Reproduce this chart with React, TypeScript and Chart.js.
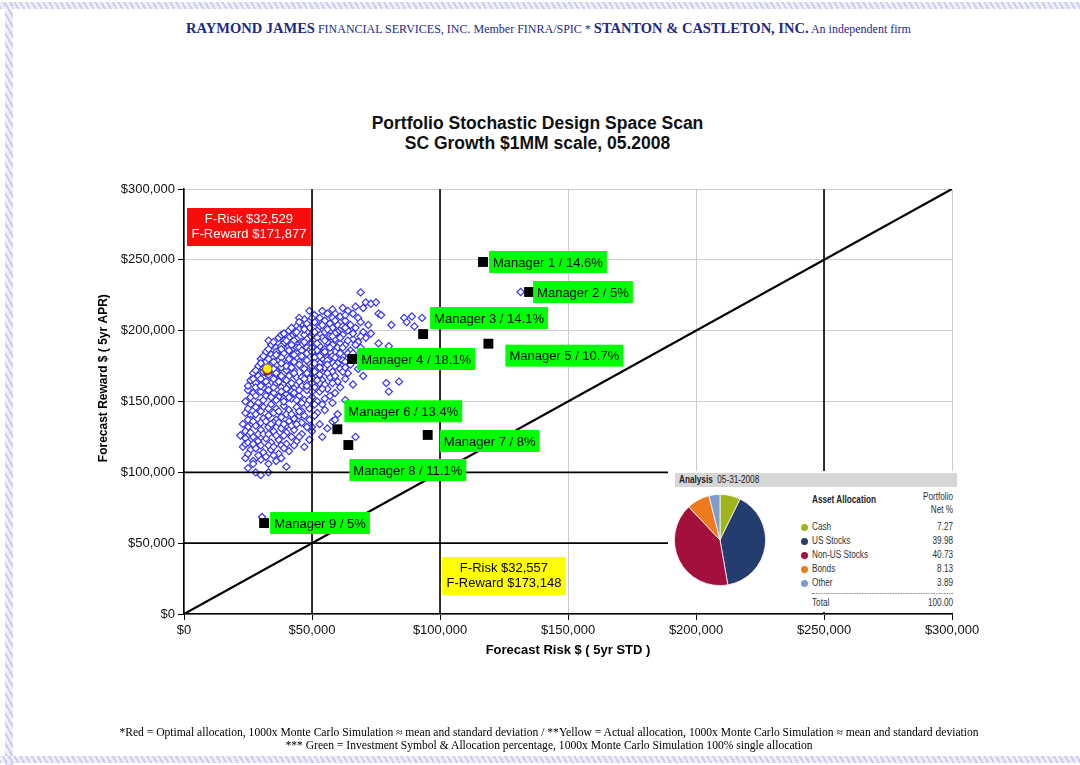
import React, { useEffect, useRef } from "react";
import { Chart, registerables } from "chart.js";

Chart.register(...registerables);

const SANS = "'Liberation Sans', Arial, Helvetica, sans-serif";
const SERIF = "'Liberation Serif', 'Times New Roman', Times, serif";

// ---------- data ----------
const axisMin = 0;
const axisMax = 300000;
const axisStep = 50000;

const chartTitle = ["Portfolio Stochastic Design Space Scan", "SC Growth $1MM scale, 05.2008"];
const riskTitle = "Forecast Risk $ ( 5yr STD )";
const rewardTitle = "Forecast Reward $ ( 5yr APR)";

// Monte Carlo cloud, values in $ thousands: [risk, reward]
const cloudPointsK: [number, number][] = [
  [69,227],[71,220],[73,219],[75,220],[67,217],
  [62,216],[64,214],[70,216],[66,212],[56,212],
  [49,214],[59,212],[61,210],[68,209],[76,212],[53,209],
  [47,208],[51,206],[55,207],[57,205],[63,207],[65,204],[72,204],[77,211],[86,209],[87,206],[89,210],[90,203],[93,209],
  [44,203],[46,205],[49,202],[53,203],[58,202],[60,204],[67,202],[81,204],[70,199],
  [41,200],[43,198],[45,201],[48,199],[50,197],[52,200],[55,199],[57,196],[60,199],[62,197],[64,200],[73,198],[80,189],
  [37,195],[39,193],[42,196],[44,194],[46,192],[49,195],[51,193],[54,195],[56,192],[59,194],[61,191],[66,194],[68,192],[71,195],[76,191],
  [34,190],[36,188],[39,191],[41,189],[43,187],[46,190],[48,188],[50,191],[53,189],[55,187],[58,190],[60,188],[63,190],[65,186],[69,188],[72,185],
  [32,185],[34,183],[37,186],[39,184],[42,182],[44,185],[47,183],[49,186],[51,182],[54,184],[56,181],[59,185],[62,182],[64,184],[67,181],[70,183],
  [30,180],[32,178],[35,181],[37,179],[40,177],[42,180],[45,178],[47,181],[49,177],[52,179],[54,176],[57,180],[60,177],[62,179],[65,176],[68,173],
  [29,175],[31,173],[34,176],[36,172],[38,174],[41,175],[43,172],[46,174],[48,172],[50,175],[53,172],[55,174],[58,171],[61,173],[64,170],
  [27,170],[29,168],[32,170],[34,167],[37,169],[39,166],[42,170],[44,167],[47,169],[49,166],[52,168],[54,165],[57,167],[60,164],[63,166],[70,168],[66,162],
  [26,165],[28,163],[31,164],[33,161],[36,163],[38,160],[41,162],[43,159],[46,161],[48,158],[51,160],[53,157],[56,159],[59,156],[61,160],[79,163],[84,164],[80,157],
  [25,158],[27,156],[30,157],[32,154],[35,156],[37,153],[40,155],[42,152],[45,154],[47,151],[50,153],[52,150],[55,152],[58,149],[63,151],
  [24,150],[26,148],[29,149],[31,146],[34,148],[36,145],[39,147],[41,144],[44,146],[46,143],[49,145],[52,142],[55,144],[60,141],
  [24,142],[26,140],[28,141],[31,138],[33,140],[36,137],[38,139],[41,136],[43,138],[46,135],[49,137],[53,134],[58,136],
  [23,134],[25,132],[28,133],[30,130],[33,132],[35,129],[38,131],[40,128],[43,130],[46,127],[50,129],[56,131],
  [22,126],[24,124],[27,125],[29,122],[32,124],[34,121],[37,123],[40,120],[44,122],[49,123],[54,125],[59,137],[67,125],
  [23,118],[26,116],[28,117],[31,114],[34,116],[37,113],[41,115],[47,118],
  [24,110],[27,108],[30,109],[33,106],[36,108],[40,104],
  [25,103],[28,100],[30,98],[33,100],[27,106],
  [33,193],[38,197],[47,197],[35,178],[44,188],[52,186],[40,172],[50,170],[31,160],[42,157],[53,163],[29,145],[39,152],[48,148],
  [35,135],[45,140],[30,125],[40,133],[57,185],[58,209],[45,209],[62,171],[38,119],[50,132],[26,137],[24,120],
  [51,211],[54,214],[58,215],[63,211],
  [45,206],[48,205],[50,209],[54,204],[59,207],[62,203],[69,206],
  [42,202],[44,199],[47,201],[51,199],[56,201],[59,198],[63,202],[66,198],
  [39,198],[41,195],[43,193],[48,194],[52,195],[55,193],[58,196],[61,195],[64,193],[69,196],
  [35,192],[38,189],[40,193],[42,190],[45,188],[47,192],[50,188],[52,191],[57,188],[62,188],[67,190],
  [33,187],[36,185],[38,187],[41,186],[43,183],[46,186],[48,184],[50,185],[53,182],[55,185],[58,182],[61,184],[66,184],
  [31,182],[33,180],[36,183],[38,181],[41,180],[43,178],[46,182],[48,179],[51,181],[53,177],[56,179],[59,181],[63,178],
  [30,177],[33,175],[35,173],[38,177],[40,175],[42,174],[45,176],[47,173],[51,177],[53,174],[56,176],[59,175],[63,174],
  [28,172],[31,171],[33,169],[36,170],[38,168],[41,168],[43,170],[46,167],[48,170],[51,171],[53,169],[56,170],[59,168],
  [27,166],[30,166],[32,164],[35,166],[37,164],[40,165],[42,163],[45,164],[47,166],[50,163],[52,165],[55,162],[58,163],
  [25,161],[28,160],[30,161],[33,158],[35,160],[38,157],[40,159],[43,156],[45,158],[48,161],[50,157],[54,159],
  [26,153],[28,154],[31,151],[34,153],[36,151],[39,150],[41,153],[44,151],[46,149],[49,151],[51,148],[54,148],[57,154],
  [25,145],[28,146],[30,143],[33,145],[35,142],[37,143],[40,141],[42,141],[45,143],[47,140],[51,140],
  [25,137],[27,136],[30,135],[32,136],[34,134],[37,135],[39,134],[42,133],[44,134],[48,132],
  [24,129],[26,128],[29,127],[31,127],[33,127],[36,126],[39,126],[42,125],[45,125],
  [25,121],[27,120],[30,119],[33,119],[35,118],[39,117],[43,119],
  [25,113],[29,112],[32,111],[35,112],[38,110],
  [131.5,227.3],[30.5,68.5],
];

const managerNames = ["Manager 1","Manager 2","Manager 3","Manager 4","Manager 5","Manager 6","Manager 7","Manager 8","Manager 9"];
const managerAlloc = ["14.6%","5%","14.1%","18.1%","10.7%","13.4%","8%","11.1%","5%"];
const managerRisk = [116800, 134800, 93400, 65700, 118900, 59900, 95200, 64200, 31300];
const managerReward = [248500, 227300, 197600, 180000, 190800, 130400, 126400, 119300, 64200];

const optimalRisk = 32529;
const optimalReward = 171877;
const actualRisk = 32557;
const actualReward = 173148;

const refRiskLines = [50000, 100000, 250000];
const refRewardLines = [50000, 100000];
const parityLine = [0, 300000];

const analysisDate = "05-31-2008";
const allocationLabels = ["Cash", "US Stocks", "Non-US Stocks", "Bonds", "Other"];
const allocationValues = [7.27, 39.98, 40.73, 8.13, 3.89];
const allocationTotal = "100.00";

const footerLines = [
  "*Red = Optimal allocation, 1000x Monte Carlo Simulation \u2248 mean and standard deviation / **Yellow = Actual allocation, 1000x Monte Carlo Simulation \u2248 mean and standard deviation",
  "*** Green = Investment Symbol & Allocation percentage, 1000x Monte Carlo Simulation 100% single allocation",
];

// ---------- styles ----------
const allocationColors = ["#a0b41e", "#243c6e", "#a3103c", "#ee7a1e", "#7c9ccc"];
// label box offsets (px) from each manager marker: [dx to box left, dy of box centre]
const labelOffsets: [number, number][] = [[6,0],[4,0],[7,-16],[5,0],[17,12],[7,-18],[12,6],[1,25],[6,0]];

const money = (v: number) => "$" + Math.round(v).toLocaleString("en-US");

const annotationPlugin = {
  id: "designAnnotations",
  afterDatasetsDraw(chart: any) {
    const { ctx, chartArea } = chart;
    const xs = chart.scales.x;
    const ys = chart.scales.y;
    ctx.save();
    ctx.font = `13px ${SANS}`;
    ctx.textBaseline = "middle";
    ctx.textAlign = "left";
    managerNames.forEach((name, i) => {
      const px = xs.getPixelForValue(managerRisk[i]);
      const py = ys.getPixelForValue(managerReward[i]);
      const [dx, dy] = labelOffsets[i];
      const text = `${name} / ${managerAlloc[i]}`;
      const w = ctx.measureText(text).width + 8;
      const h = 22;
      const left = px + dx;
      const cy = py + dy;
      ctx.fillStyle = "#00ff00";
      ctx.fillRect(left, cy - h / 2, w, h);
      ctx.fillStyle = "#000";
      ctx.fillText(text, left + 4, cy + 1);
    });

    const box = (left: number, top: number, lines: string[], bg: string, fg: string) => {
      const w = Math.max(...lines.map((l) => ctx.measureText(l).width)) + 9;
      const h = 38;
      ctx.fillStyle = bg;
      ctx.fillRect(left, top, w, h);
      ctx.fillStyle = fg;
      ctx.textAlign = "center";
      ctx.fillText(lines[0], left + w / 2, top + 11);
      ctx.fillText(lines[1], left + w / 2, top + 26.5);
      ctx.textAlign = "left";
    };
    box(chartArea.left + 3, chartArea.top + 19,
      [`F-Risk ${money(optimalRisk)}`, `F-Reward ${money(optimalReward)}`], "#f80c0c", "#fff");
    box(chartArea.left + 258, chartArea.top + 368,
      [`F-Risk ${money(actualRisk)}`, `F-Reward ${money(actualReward)}`], "#ffff00", "#000");
    ctx.restore();
  },
};

const hatch = "repeating-linear-gradient(60deg, #cdcdee 0px, #cdcdee 2px, #efeffa 2px, #efeffa 5px)";

export default function App() {
  const canvasRef = useRef<HTMLCanvasElement | null>(null);
  const pieRef = useRef<HTMLCanvasElement | null>(null);

  useEffect(() => {
    if (!canvasRef.current || !pieRef.current) return;
    const lineStyle = { showLine: true, pointRadius: 0, borderColor: "#000", fill: false };
    const datasets: any[] = [
      ...refRiskLines.map((v) => ({
        ...lineStyle, borderWidth: 1.6, order: 4,
        data: [{ x: v, y: axisMin }, { x: v, y: axisMax }],
      })),
      ...refRewardLines.map((v) => ({
        ...lineStyle, borderWidth: 1.6, order: 4,
        data: [{ x: axisMin, y: v }, { x: axisMax, y: v }],
      })),
      {
        ...lineStyle, borderWidth: 2.2, order: 4,
        data: [{ x: parityLine[0], y: parityLine[0] }, { x: parityLine[1], y: parityLine[1] }],
      },
      {
        label: "Monte Carlo",
        order: 6,
        data: cloudPointsK.map(([r, w]) => ({ x: r * 1000, y: w * 1000 })),
        pointStyle: "rectRot",
        pointRadius: 3.6,
        borderWidth: 1.2,
        borderColor: "#3434f2",
        backgroundColor: "#ffffff",
      },
      {
        label: "Managers",
        order: 3,
        data: managerRisk.map((r, i) => ({ x: r, y: managerReward[i] })),
        pointStyle: "rect",
        pointRadius: 7,
        borderWidth: 0,
        backgroundColor: "#000",
        borderColor: "#000",
      },
      {
        label: "Optimal",
        order: 2,
        data: [{ x: optimalRisk, y: optimalReward }],
        pointStyle: "circle",
        pointRadius: 4.5,
        borderWidth: 1,
        backgroundColor: "#c41010",
        borderColor: "#700000",
      },
      {
        label: "Actual",
        order: 1,
        data: [{ x: actualRisk, y: actualReward }],
        pointStyle: "circle",
        pointRadius: 4.6,
        borderWidth: 1,
        backgroundColor: "#ffee00",
        borderColor: "#8a6a00",
      },
    ];

    const tickFont = { family: SANS, size: 13 };
    const chart = new Chart(canvasRef.current, {
      type: "scatter",
      data: { datasets },
      options: {
        animation: false,
        responsive: false,
        events: [],
        layout: { padding: { left: 96, right: 128, top: 189, bottom: 101 } },
        plugins: { legend: { display: false }, tooltip: { enabled: false }, title: { display: false } },
        scales: {
          x: {
            type: "linear",
            min: axisMin,
            max: axisMax,
            ticks: { stepSize: axisStep, callback: (v: any) => money(Number(v)), font: tickFont, color: "#111", padding: 3, maxRotation: 0 },
            grid: { color: "#cdcdcd", lineWidth: 1, tickLength: 6, tickColor: "#000", drawTicks: true },
            border: { color: "#000", width: 1.6 },
            title: { display: true, text: riskTitle, font: { family: SANS, size: 13, weight: "bold" }, color: "#000", padding: { top: 0, bottom: 6 } },
            afterFit: (s: any) => { s.height = 50; },
          },
          y: {
            type: "linear",
            min: axisMin,
            max: axisMax,
            ticks: { stepSize: axisStep, callback: (v: any) => money(Number(v)), font: tickFont, color: "#111", padding: 3 },
            grid: { color: "#cdcdcd", lineWidth: 1, tickLength: 6, tickColor: "#000", drawTicks: true },
            border: { color: "#000", width: 1.6 },
            title: {
              display: true,
              text: "\u0020".repeat(14) + rewardTitle,
              font: { family: SANS, size: 12, weight: "bold" },
              color: "#000",
              padding: { top: 0, bottom: 0 },
            },
            afterFit: (s: any) => { s.width = 88; },
          },
        },
      } as any,
      plugins: [annotationPlugin],
    });

    const pie = new Chart(pieRef.current, {
      type: "pie",
      data: {
        labels: allocationLabels,
        datasets: [{ data: allocationValues, backgroundColor: allocationColors, borderColor: "#ffffff", borderWidth: 0.8 }],
      },
      options: {
        animation: false,
        responsive: false,
        events: [],
        layout: { padding: 2 },
        plugins: { legend: { display: false }, tooltip: { enabled: false } },
      } as any,
    });

    return () => {
      chart.destroy();
      pie.destroy();
    };
  }, []);

  const rowTop = [56, 70, 84, 98, 112];

  return (
    <div style={{ position: "absolute", left: 0, top: 0, width: 1080, height: 765, background: "#fff", overflow: "hidden" }}>
      <div style={{ position: "absolute", left: 0, top: 2, width: 1080, height: 7, background: hatch }} />
      <div style={{ position: "absolute", left: 5, top: 2, width: 8, height: 763, background: hatch }} />
      <div style={{ position: "absolute", left: 0, top: 756, width: 1080, height: 7, background: hatch }} />

      <div style={{ position: "absolute", left: 0, top: 19, width: 1097, textAlign: "center", lineHeight: "18px", color: "#1c2a86", fontFamily: SERIF, whiteSpace: "nowrap" }}>
        <span style={{ fontWeight: "bold", fontSize: 14.5 }}>RAYMOND JAMES</span>
        <span style={{ fontSize: 12 }}> FINANCIAL SERVICES, INC. Member FINRA/SPIC * </span>
        <span style={{ fontWeight: "bold", fontSize: 14.5 }}>STANTON &amp; CASTLETON, INC.</span>
        <span style={{ fontSize: 12 }}> An independent firm</span>
      </div>

      <div style={{ position: "absolute", left: 0, top: 113, width: 1075, textAlign: "center", lineHeight: "20px", fontFamily: SANS, fontWeight: "bold", fontSize: 17.5, color: "#111" }}>
        <div>{chartTitle[0]}</div>
        <div>{chartTitle[1]}</div>
      </div>

      <canvas ref={canvasRef} width={1080} height={765} style={{ position: "absolute", left: 0, top: 0, display: "block" }} />

      <div style={{ position: "absolute", left: 668, top: 471, width: 291, height: 141, background: "#fff" }}>
        <div style={{ position: "absolute", left: 7, top: 2, width: 282, height: 14, background: "#d6d6d6" }}>
          <div style={{ position: "absolute", left: 4, top: 0, lineHeight: "14px", fontFamily: SANS, fontSize: 10, color: "#222", whiteSpace: "nowrap", transform: "scaleX(0.82)", transformOrigin: "0 0" }}>
            <b>Analysis</b>&nbsp;&nbsp;{analysisDate}
          </div>
        </div>
        <canvas ref={pieRef} width={96} height={96} style={{ position: "absolute", left: 4, top: 21 }} />
        {allocationColors.map((c, i) => (
          <div key={"b" + i} style={{ position: "absolute", left: 133, top: rowTop[i] - 3.5, width: 7, height: 7, borderRadius: "50%", background: c }} />
        ))}
        <div style={{ position: "absolute", left: 144, top: 0, width: 172, height: 141, transform: "scaleX(0.82)", transformOrigin: "0 0", fontFamily: SANS, fontSize: 10, color: "#333" }}>
          <div style={{ position: "absolute", left: 0, top: 23, lineHeight: "12px", fontWeight: "bold", color: "#222", whiteSpace: "nowrap" }}>Asset Allocation</div>
          <div style={{ position: "absolute", right: 0, top: 20, lineHeight: "12px", textAlign: "right" }}>Portfolio</div>
          <div style={{ position: "absolute", right: 0, top: 33, lineHeight: "12px", textAlign: "right" }}>Net %</div>
          {allocationLabels.map((l, i) => (
            <React.Fragment key={l}>
              <div style={{ position: "absolute", left: 0, top: rowTop[i] - 6, lineHeight: "12px", whiteSpace: "nowrap" }}>{l}</div>
              <div style={{ position: "absolute", right: 0, top: rowTop[i] - 6, lineHeight: "12px" }}>{allocationValues[i].toFixed(2)}</div>
            </React.Fragment>
          ))}
          <div style={{ position: "absolute", left: 0, right: 0, top: 122, borderTop: "1px dotted #777" }} />
          <div style={{ position: "absolute", left: 0, top: 126, lineHeight: "12px" }}>Total</div>
          <div style={{ position: "absolute", right: 0, top: 126, lineHeight: "12px" }}>{allocationTotal}</div>
        </div>
      </div>

      <div style={{ position: "absolute", left: 0, top: 726, width: 1098, textAlign: "center", lineHeight: "13px", fontFamily: SERIF, fontSize: 11.6, color: "#000", whiteSpace: "nowrap" }}>
        <div>{footerLines[0]}</div>
        <div>{footerLines[1]}</div>
      </div>
    </div>
  );
}
